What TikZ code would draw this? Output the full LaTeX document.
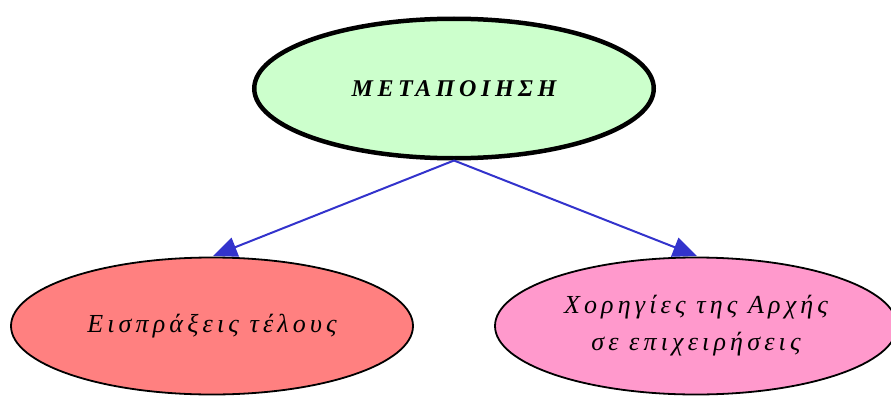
\documentclass[tikz,border=0pt]{standalone}
\usepackage{fontspec}
\setmainfont{Liberation Serif}
\newfontfamily\grktop[LetterSpace=19]{Liberation Serif}
\newfontfamily\grk[LetterSpace=16]{Liberation Serif}
\usetikzlibrary{shapes.geometric,arrows.meta}
\definecolor{topgreen}{HTML}{CCFFCC}
\definecolor{leftred}{HTML}{FF8080}
\definecolor{rightpink}{HTML}{FF99CC}
\definecolor{edgeblue}{HTML}{3333CC}
\tikzset{
  mainnode/.style={ellipse, draw=black, fill=topgreen, line width=4.5pt, inner sep=0pt,
    minimum width=399.5pt, minimum height=139.5pt, font=\grktop\fontsize{24pt}{28pt}\selectfont\bfseries\itshape},
  subnode/.style={ellipse, draw=black, line width=1.8pt, inner sep=0pt,
    minimum width=402pt, minimum height=137pt, align=center,
    font=\grk\fontsize{26pt}{37pt}\selectfont\itshape},
  link/.style={draw=edgeblue, line width=2pt, -{Triangle[length=24pt,width=20pt]}, edgeblue}
}
\begin{document}
\begin{tikzpicture}[x=1pt,y=-1pt]
\useasboundingbox (0,0) rectangle (891,396);
\node[mainnode] (top) at (454,88.5) {ΜΕΤΑΠΟΙΗΣΗ};
\coordinate (tipL) at (213,256);
\coordinate (tipR) at (697,256);
\draw[link] (top.south) -- (tipL);
\draw[link] (top.south) -- (tipR);
\node[subnode, fill=leftred] (left) at (212,326) {Εισπράξεις τέλους};
\node[subnode, fill=rightpink] (right) at (696,326) {Χορηγίες της Αρχής\\σε επιχειρήσεις};
\end{tikzpicture}
\end{document}
